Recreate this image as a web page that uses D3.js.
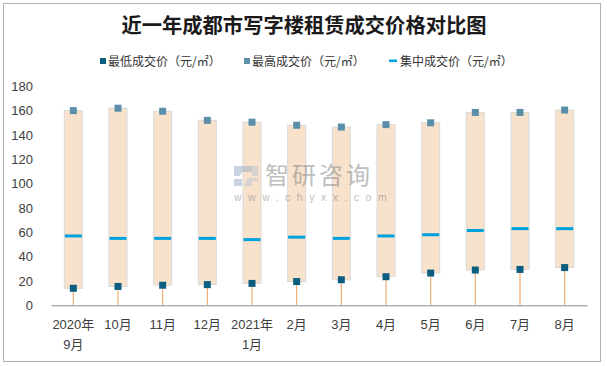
<!DOCTYPE html>
<html>
<head>
<meta charset="utf-8">
<script src="https://cdn.jsdelivr.net/npm/d3@7/dist/d3.min.js"></script>
<style>
  html, body { margin: 0; padding: 0; background: #fff; }
  svg { display: block; }
</style>
</head>
<body>
<svg id="chart" width="607" height="366"></svg>
<script>
const categories = ["2020年\n9月", "10月", "11月", "12月", "2021年\n1月", "2月", "3月", "4月", "5月", "6月", "7月", "8月"];
const minPrice = [14, 15.5, 16.5, 17, 18, 19.5, 21, 23.5, 26.5, 29, 29.5, 31];
const maxPrice = [160, 162, 159.5, 152, 150.5, 148, 146.5, 148.5, 150, 158.5, 158.5, 160.5];
const midPrice = [57, 55, 55, 55, 54, 56, 55, 57, 58, 61.5, 63, 63];
const yTicks = [0, 20, 40, 60, 80, 100, 120, 140, 160, 180];
const seriesNames = ["最低成交价（元/㎡）", "最高成交价（元/㎡）", "集中成交价（元/㎡）"];
const title = "近一年成都市写字楼租赁成交价格对比图";

const colors = { min: "#0B5E80", max: "#5B8FA9", mid: "#00A2DE", box: "#F8E2CC", boxStroke: "#D9D9D9", stem: "#F2AE72" };
const numFont = "'Liberation Sans', 'Noto Sans CJK SC', sans-serif";
const cjkFont = "'Noto Sans CJK SC', sans-serif";

const svg = d3.select("#chart");

// outer border
svg.append("rect").attr("x", 3.5).attr("y", 3.5).attr("width", 597).attr("height", 358)
  .attr("fill", "none").attr("stroke", "#B0B0B0").attr("stroke-width", 1);

// title
svg.append("text").attr("x", 304).attr("y", 33).attr("text-anchor", "middle")
  .attr("font-family", cjkFont).attr("font-weight", "bold").attr("font-size", 20.3)
  .attr("fill", "#1a1a1a").text(title);

const data = categories.map((c, i) => ({ c, min: minPrice[i], max: maxPrice[i], mid: midPrice[i] }));

const x = d3.scaleBand().domain(categories).range([51, 587]).padding(0);
const y = d3.scaleLinear().domain([0, 180]).range([305.3, 86.3]);

// y axis
const yAxis = svg.append("g").attr("transform", "translate(37,0)")
  .call(d3.axisLeft(y).tickValues(yTicks).tickSize(0).tickPadding(4));
yAxis.select(".domain").remove();
yAxis.selectAll("text").attr("font-family", numFont).attr("font-size", 13).attr("fill", "#404040");

// stems from axis to min
const cx = d => x(d.c) + x.bandwidth() / 2;
svg.append("g").selectAll("line").data(data).join("line")
  .attr("x1", cx).attr("x2", cx)
  .attr("y1", d => y(d.min)).attr("y2", y(0))
  .attr("stroke", colors.stem).attr("stroke-width", 1.2);

// boxes
const bw = 18;
svg.append("g").selectAll("rect").data(data).join("rect")
  .attr("x", d => cx(d) - bw / 2).attr("width", bw)
  .attr("y", d => y(d.max)).attr("height", d => y(d.min) - y(d.max))
  .attr("fill", colors.box).attr("stroke", colors.boxStroke).attr("stroke-width", 1);

// x axis
const xAxis = svg.append("g").attr("transform", `translate(0,${y(0)})`)
  .call(d3.axisBottom(x).tickSize(0).tickPadding(0));
xAxis.select(".domain").attr("stroke", "#8C8C8C").attr("stroke-width", 1);
xAxis.selectAll("text").each(function(d) {
  const t = d3.select(this);
  t.text(null).attr("y", 0).attr("dy", null)
    .attr("font-family", numFont).attr("font-size", 13).attr("fill", "#404040");
  d.split("\n").forEach((line, i) => {
    t.append("tspan").attr("x", 0).attr("y", 24 + i * 20).text(line);
  });
});

// median lines
svg.append("g").selectAll("rect").data(data).join("rect")
  .attr("x", d => cx(d) - 8.5).attr("width", 17)
  .attr("y", d => y(d.mid) - 1.5).attr("height", 3)
  .attr("fill", colors.mid);

// max markers
const ms = 7;
svg.append("g").selectAll("rect").data(data).join("rect")
  .attr("x", d => cx(d) - ms / 2).attr("y", d => y(d.max) - ms / 2)
  .attr("width", ms).attr("height", ms).attr("fill", colors.max);

// min markers
svg.append("g").selectAll("rect").data(data).join("rect")
  .attr("x", d => cx(d) - ms / 2).attr("y", d => y(d.min) - ms / 2)
  .attr("width", ms).attr("height", ms).attr("fill", colors.min);

// watermark
const wm = svg.append("g").attr("opacity", 0.55);
wm.append("path").attr("d", "M234,166 h22 v6 h-14 l-2,4 h-6 z M234,179 h8 v7 h-8 z")
  .attr("fill", "#9FB2C8");
wm.append("path").attr("d", "M248,178 h10 v3 h-6 v5 h-8 z M252,166 h6 v10 h-6 z")
  .attr("fill", "#B9C5D3");
wm.append("text").attr("x", 265).attr("y", 184).attr("font-family", cjkFont)
  .attr("font-size", 24).attr("fill", "#8a8a8a").attr("letter-spacing", 3).text("智研咨询");
wm.append("text").attr("x", 234).attr("y", 201).attr("font-family", numFont)
  .attr("font-size", 10.5).attr("fill", "#8a8a8a").attr("letter-spacing", 6.5).text("www.chyxx.com");

// legend
const legend = svg.append("g").attr("font-family", cjkFont).attr("font-size", 12).attr("fill", "#333");
const lx = [100, 244, 389];
legend.append("rect").attr("x", lx[0]).attr("y", 58).attr("width", 6).attr("height", 6).attr("fill", colors.min);
legend.append("rect").attr("x", lx[1]).attr("y", 58).attr("width", 6).attr("height", 6).attr("fill", colors.max);
legend.append("rect").attr("x", lx[2]).attr("y", 59.5).attr("width", 8).attr("height", 2.5).attr("fill", colors.mid);
seriesNames.forEach((n, i) => {
  legend.append("text").attr("x", lx[i] + (i === 2 ? 11 : 8)).attr("y", 65.5).text(n);
});
</script>
</body>
</html>
